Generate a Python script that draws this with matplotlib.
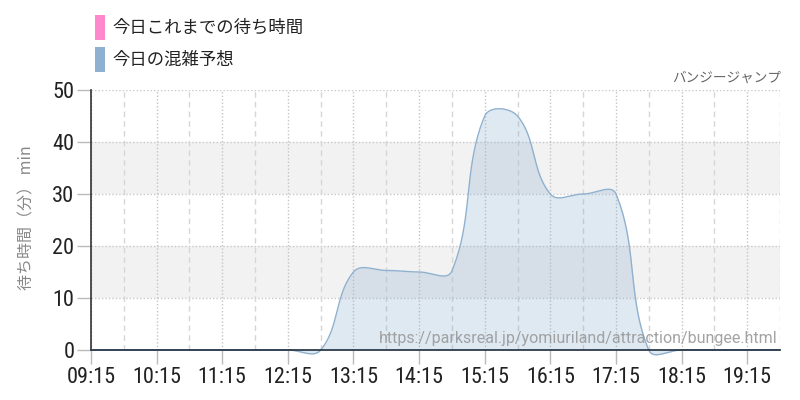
import matplotlib
matplotlib.use("Agg")
import matplotlib.pyplot as plt
import numpy as np
from matplotlib.patches import Rectangle

# ---- data ----
times = ["09:15", "09:45", "10:15", "10:45", "11:15", "11:45", "12:15", "12:45",
         "13:15", "13:45", "14:15", "14:45", "15:15", "15:45", "16:15", "16:45",
         "17:15", "17:45", "18:15", "18:45", "19:15", "19:45"]
forecast = [0, 0, 0, 0, 0, 0, 0, 0,
            15, 15.3, 15, 15.2, 45, 45, 30, 30,
            30, 0, 0, 0, 0, 0]
tick_labels = ["09:15", "10:15", "11:15", "12:15", "13:15", "14:15",
               "15:15", "16:15", "17:15", "18:15", "19:15"]
legend_labels = ["今日これまでの待ち時間", "今日の混雑予想"]
title = "バンジージャンプ"
ylabel = "待ち時間（分） min"
url = "https://parksreal.jp/yomiuriland/attraction/bungee.html"

def to_h(t):
    h, m = t.split(":")
    return int(h) + int(m) / 60.0

xh = np.array([to_h(t) for t in times])
yv = np.array(forecast, dtype=float)

BLUE = "#8fb1cf"
PINK = "#ff88cc"
CJK = ["Noto Sans CJK JP", "DejaVu Sans"]
NARROW = ["Roboto Condensed", "Roboto", "DejaVu Sans"]

fig = plt.figure(figsize=(8, 4), dpi=100)
L, R, B, T = 91 / 800, 780 / 800, 50 / 400, 310 / 400
ax = fig.add_axes([L, B, R - L, T - B])
x0, x1 = to_h("09:15"), to_h("19:45")
ax.set_xlim(x0, x1)
ax.set_ylim(0, 50)

# pixel scales for spline smoothing (Chart.js style, tension 0.4)
sx = (780 - 91) / (x1 - x0)
sy = 260 / 50.0
px = xh * sx
py = yv * sy
n = len(px)
tension = 0.4
cp_prev = np.zeros((n, 2))
cp_next = np.zeros((n, 2))
for i in range(n):
    p = np.array([px[i], py[i]])
    a = np.array([px[max(i - 1, 0)], py[max(i - 1, 0)]])
    c = np.array([px[min(i + 1, n - 1)], py[min(i + 1, n - 1)]])
    d01 = np.hypot(*(p - a))
    d12 = np.hypot(*(c - p))
    s = d01 + d12
    fa = tension * d01 / s if s else 0
    fb = tension * d12 / s if s else 0
    cp_prev[i] = p - fa * (c - a)
    cp_next[i] = p + fb * (c - a)
cx, cy = [], []
tt = np.linspace(0, 1, 40)
for i in range(n - 1):
    P0 = np.array([px[i], py[i]]); P1 = cp_next[i]; P2 = cp_prev[i + 1]; P3 = np.array([px[i + 1], py[i + 1]])
    pts = ((1 - tt) ** 3)[:, None] * P0 + (3 * (1 - tt) ** 2 * tt)[:, None] * P1 + \
          (3 * (1 - tt) * tt ** 2)[:, None] * P2 + (tt ** 3)[:, None] * P3
    cx.extend(pts[:, 0]); cy.extend(pts[:, 1])
cx = np.array(cx) / sx
cy = np.array(cy) / sy

# bands
for lo, hi in [(10, 20), (30, 40)]:
    ax.axhspan(lo, hi, color="#f2f2f2", zorder=0, lw=0)
# grid
for v in [10, 20, 30, 40, 50]:
    ax.axhline(v, color="#c8c8c8", lw=1, ls=(0, (1, 1.5)), zorder=1)
for t in tick_labels:
    ax.axvline(to_h(t), color="#c4c4c4", lw=1, ls=(0, (1, 1.5)), zorder=1)
for i, t in enumerate(times):
    if t not in tick_labels:
        ax.axvline(to_h(t), color="#d6d6d6", lw=1, ls=(0, (4, 3)), zorder=1)

ax.fill_between(cx, cy, 0, color=BLUE, alpha=0.28, lw=0, zorder=2, clip_on=False)
ax.plot(cx, cy, color=BLUE, lw=1, zorder=3, clip_on=False)

for sp in ["top", "right"]:
    ax.spines[sp].set_visible(False)
ax.spines["left"].set_color("#333333")
ax.spines["left"].set_linewidth(1.2)
ax.spines["bottom"].set_color("#1f2d3d")
ax.spines["bottom"].set_linewidth(1.2)
ax.spines["bottom"].set_zorder(4)

ax.set_xticks([to_h(t) for t in tick_labels])
ax.set_xticklabels(tick_labels, family=NARROW, fontsize=16, color="#222222")
ax.set_yticks([0, 10, 20, 30, 40, 50])
ax.set_yticklabels(["0", "10", "20", "30", "40", "50"], family=NARROW, fontsize=16, color="#222222")
ax.tick_params(axis="both", length=10, color="#bbbbbb", width=1, pad=2)

fig.text(27 / 800, 1 - 218 / 400, ylabel, rotation=90, ha="center", va="center",
         family=CJK, fontsize=11.5, color="#888888")
fig.text(781 / 800, 1 - 78 / 400, title, ha="right", va="center",
         family=CJK, fontsize=9.8, color="#666666")
fig.text(778 / 800, 1 - 338 / 400, url, ha="right", va="center",
         family=["Roboto", "DejaVu Sans"], fontsize=11.5, color="#999999", alpha=0.9, zorder=5)

# legend
for i, (lab, col) in enumerate(zip(legend_labels, [PINK, BLUE])):
    ytop = 15 + i * 32
    fig.patches.append(Rectangle((95 / 800, 1 - (ytop + 25) / 400), 10 / 800, 25 / 400,
                                 transform=fig.transFigure, color=col, lw=0))
    fig.text(112 / 800, 1 - (ytop + 13) / 400, lab, ha="left", va="center",
             family=CJK, fontsize=12.5, color="#222222")

fig.savefig("out.png", dpi=100)
